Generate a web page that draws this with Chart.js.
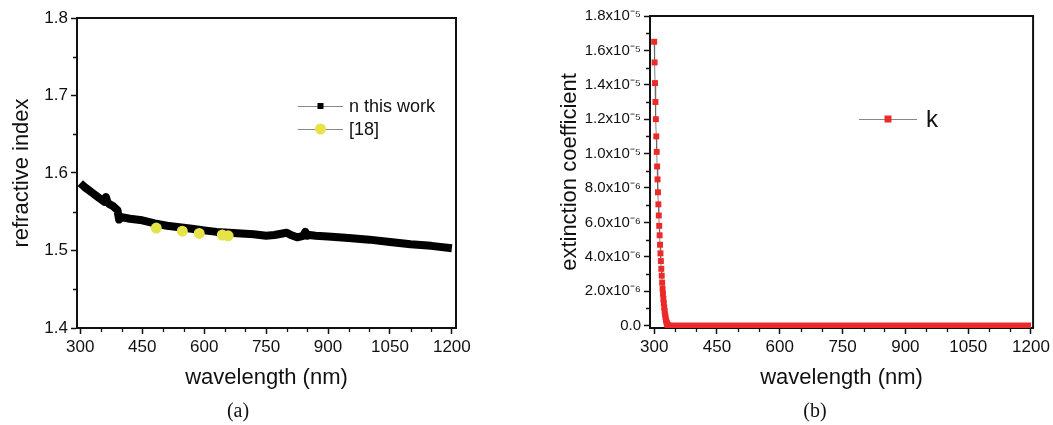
<!DOCTYPE html>
<html>
<head>
<meta charset="utf-8">
<script src="https://cdn.jsdelivr.net/npm/chart.js@4.4.0/dist/chart.umd.min.js"></script>
<style>
  body { margin: 0; background: #fff; width: 1053px; height: 425px; position: relative; overflow: hidden; }
  canvas { position: absolute; top: 0; }
  #chartA { left: 0; }
  #chartB { left: 530px; }
  .cap { position: absolute; top: 399px; width: 60px; text-align: center;
         font-family: 'Liberation Serif', 'Times New Roman', serif; font-size: 20px; color: #111; }
</style>
</head>
<body>
<canvas id="chartA" width="500" height="425"></canvas>
<canvas id="chartB" width="523" height="425"></canvas>
<div class="cap" style="left:208px">(a)</div>
<div class="cap" style="left:785px">(b)</div>
<script>
'use strict';

// (a) refractive index, this work
var nWave = [300, 310, 320, 330, 340, 350, 358, 362, 366, 370, 380, 390, 394, 400, 420, 450, 480, 510, 540, 570,
             600, 630, 660, 690, 720, 750, 770, 790, 800, 810, 825, 840, 845, 850, 855, 870, 900, 950, 1000, 1050,
             1100, 1150, 1200];
var nVals = [1.587, 1.582, 1.578, 1.574, 1.570, 1.566, 1.563, 1.569, 1.562, 1.560, 1.557, 1.552, 1.540, 1.543, 1.541, 1.539, 1.535, 1.532, 1.530, 1.528,
             1.526, 1.524, 1.523, 1.522, 1.521, 1.519, 1.520, 1.522, 1.523, 1.520, 1.517, 1.519, 1.524, 1.519, 1.520, 1.519, 1.518, 1.516, 1.514, 1.511,
             1.508, 1.506, 1.503];
// (a) reference [18]
var refWave = [484, 547, 588, 644, 658];
var refVals = [1.529, 1.525, 1.522, 1.520, 1.519];

// (b) extinction coefficient
var kWave = [300, 301, 302, 303, 304, 305, 306, 307, 308, 309, 310, 311, 312, 313, 314, 315, 316, 317, 318, 319,
             320, 321, 322, 323, 324, 325, 326, 327, 328, 329, 330, 331, 332, 333, 334];
var kVals = [16.5e-6, 15.3e-6, 14.1e-6, 13.0e-6, 12.0e-6, 11.0e-6, 10.1e-6, 9.25e-6, 8.5e-6, 7.75e-6,
             7.05e-6, 6.4e-6, 5.8e-6, 5.25e-6, 4.7e-6, 4.2e-6, 3.75e-6, 3.3e-6, 2.9e-6, 2.5e-6,
             2.15e-6, 1.85e-6, 1.55e-6, 1.3e-6, 1.05e-6, 0.85e-6, 0.65e-6, 0.5e-6, 0.35e-6, 0.25e-6,
             0.15e-6, 0.08e-6, 0.03e-6, 0.01e-6, 0];
var kFlatWave = [334, 400, 500, 600, 700, 800, 900, 1000, 1100, 1200];
var kFlatVals = [0, 0, 0, 0, 0, 0, 0, 0, 0, 0];

// ticks
var xTicks = [300, 450, 600, 750, 900, 1050, 1200];
var xMinor = [350, 400, 500, 550, 650, 700, 800, 850, 950, 1000, 1100, 1150];
var yTicksA = [1.4, 1.5, 1.6, 1.7, 1.8];
var yMinorA = [1.45, 1.55, 1.65, 1.75];
var yTicksB = [0, 2e-6, 4e-6, 6e-6, 8e-6, 1.0e-5, 1.2e-5, 1.4e-5, 1.6e-5, 1.8e-5];
var yTickLabelsB = ['0.0', '2.0x10\u207B\u2076', '4.0x10\u207B\u2076', '6.0x10\u207B\u2076', '8.0x10\u207B\u2076',
                    '1.0x10\u207B\u2075', '1.2x10\u207B\u2075', '1.4x10\u207B\u2075', '1.6x10\u207B\u2075', '1.8x10\u207B\u2075'];
var yMinorB = [1e-6, 3e-6, 5e-6, 7e-6, 9e-6, 1.1e-5, 1.3e-5, 1.5e-5, 1.7e-5];

var FONT = "'Liberation Sans', Arial, sans-serif";
Chart.defaults.font.family = FONT;
Chart.defaults.color = '#111';

function pts(xs, ys) {
    return xs.map(function (x, i) { return {x: x, y: ys[i]}; });
}

// frame on top/right, minor ticks and the in-plot legend
var framePlugin = {
    id: 'frame',
    afterDraw: function (chart, args, opts) {
        var ctx = chart.ctx, a = chart.chartArea, sx = chart.scales.x, sy = chart.scales.y;
        ctx.save();
        ctx.strokeStyle = '#111';
        ctx.lineWidth = 2;
        ctx.beginPath();
        ctx.moveTo(a.left, a.top);
        ctx.lineTo(a.right, a.top);
        ctx.lineTo(a.right, a.bottom);
        ctx.stroke();

        ctx.lineWidth = 1.3;
        ctx.beginPath();
        opts.xMinor.forEach(function (v) {
            var px = Math.round(sx.getPixelForValue(v)) + 0.5;
            ctx.moveTo(px, a.bottom);
            ctx.lineTo(px, a.bottom + 4);
        });
        opts.yMinor.forEach(function (v) {
            var py = Math.round(sy.getPixelForValue(v)) + 0.5;
            ctx.moveTo(a.left, py);
            ctx.lineTo(a.left - 4, py);
        });
        ctx.stroke();

        opts.legend.forEach(function (it) {
            ctx.strokeStyle = '#888';
            ctx.lineWidth = 1;
            ctx.beginPath();
            ctx.moveTo(it.x0, it.y + 0.5);
            ctx.lineTo(it.x1, it.y + 0.5);
            ctx.stroke();
            var mx = (it.x0 + it.x1) / 2;
            ctx.fillStyle = it.color;
            if (it.shape === 'circle') {
                ctx.beginPath();
                ctx.arc(mx, it.y, 5.5, 0, Math.PI * 2);
                ctx.fill();
            } else {
                ctx.fillRect(mx - it.size / 2, it.y - it.size / 2, it.size, it.size);
            }
            ctx.fillStyle = '#111';
            ctx.font = it.font + 'px ' + FONT;
            ctx.textBaseline = 'middle';
            ctx.textAlign = 'left';
            ctx.fillText(it.label, it.tx, it.y + 1);
        });
        ctx.restore();
    }
};

function axisX(min, max, titlePad) {
    return {
        type: 'linear', min: min, max: max,
        afterBuildTicks: function (s) { s.ticks = xTicks.map(function (v) { return {value: v}; }); },
        afterFit: function (s) { s.height = 97; },
        ticks: {font: {size: 17}, padding: 3, maxRotation: 0, color: '#111',
                callback: function (v) { return String(v); }},
        grid: {drawOnChartArea: false, drawTicks: true, tickLength: 6, tickWidth: 1.5, tickColor: '#111'},
        border: {display: true, color: '#111', width: 2},
        title: {display: true, text: 'wavelength (nm)', font: {size: 22}, color: '#111', padding: {top: 0, bottom: titlePad}}
    };
}

new Chart(document.getElementById('chartA'), {
    type: 'line',
    data: {
        datasets: [{
            label: 'n this work',
            data: pts(nWave, nVals),
            order: 2,
            borderColor: '#000',
            borderWidth: 8,
            borderJoinStyle: 'round',
            pointRadius: 0,
            tension: 0
        }, {
            label: '[18]',
            data: pts(refWave, refVals),
            order: 1,
            showLine: false,
            pointStyle: 'circle',
            pointRadius: 5.5,
            pointBorderWidth: 0,
            backgroundColor: '#e6e34a',
            borderColor: '#e6e34a'
        }]
    },
    options: {
        responsive: false,
        animation: false,
        layout: {padding: {top: 18, right: 44, left: 0, bottom: 0}},
        plugins: {
            legend: {display: false},
            tooltip: {enabled: false},
            frame: {
                xMinor: xMinor, yMinor: yMinorA,
                legend: [
                    {label: 'n this work', shape: 'rect', size: 6, color: '#000', x0: 298, x1: 343, y: 106, tx: 349, font: 18},
                    {label: '[18]', shape: 'circle', color: '#e6e34a', x0: 298, x1: 343, y: 129, tx: 349, font: 18}
                ]
            }
        },
        scales: {
            x: axisX(292, 1210, 34),
            y: {
                type: 'linear', min: 1.4, max: 1.8,
                afterBuildTicks: function (s) { s.ticks = yTicksA.map(function (v) { return {value: v}; }); },
                afterFit: function (s) { s.width = 77; },
                ticks: {font: {size: 17}, padding: 3, color: '#111', callback: function (v) { return v.toFixed(1); }},
                grid: {drawOnChartArea: false, drawTicks: true, tickLength: 6, tickWidth: 1.5, tickColor: '#111'},
                border: {display: true, color: '#111', width: 2},
                title: {display: true, text: 'refractive index', font: {size: 22}, color: '#111', padding: {top: 9, bottom: 0}}
            }
        }
    },
    plugins: [framePlugin]
});

new Chart(document.getElementById('chartB'), {
    type: 'line',
    data: {
        datasets: [{
            label: 'k flat',
            data: pts(kFlatWave, kFlatVals),
            order: 2,
            borderColor: '#ec2a2a',
            borderWidth: 6,
            pointRadius: 0
        }, {
            label: 'k',
            data: pts(kWave, kVals),
            order: 1,
            borderColor: '#666',
            borderWidth: 0.8,
            pointStyle: 'rect',
            pointRadius: 4.2,
            pointBorderWidth: 0,
            backgroundColor: '#ec2a2a'
        }]
    },
    options: {
        responsive: false,
        animation: false,
        layout: {padding: {top: 16, right: 19, left: 0, bottom: 0}},
        plugins: {
            legend: {display: false},
            tooltip: {enabled: false},
            frame: {
                xMinor: xMinor, yMinor: yMinorB,
                legend: [
                    {label: 'k', shape: 'rect', size: 7, color: '#ec2a2a', x0: 329, x1: 387, y: 119, tx: 396, font: 24}
                ]
            }
        },
        scales: {
            x: axisX(290, 1205, 34),
            y: {
                type: 'linear', min: -1.4e-7, max: 1.8e-5,
                afterBuildTicks: function (s) { s.ticks = yTicksB.map(function (v) { return {value: v}; }); },
                afterFit: function (s) { s.width = 120; },
                ticks: {font: {size: 15}, padding: 3, color: '#111',
                        callback: function (v, i) { return yTickLabelsB[i]; }},
                grid: {drawOnChartArea: false, drawTicks: true, tickLength: 6, tickWidth: 1.5, tickColor: '#111'},
                border: {display: true, color: '#111', width: 2},
                title: {display: true, text: 'extinction coefficient', font: {size: 22}, color: '#111', padding: {top: 27, bottom: 0}}
            }
        }
    },
    plugins: [framePlugin]
});
</script>
</body>
</html>
